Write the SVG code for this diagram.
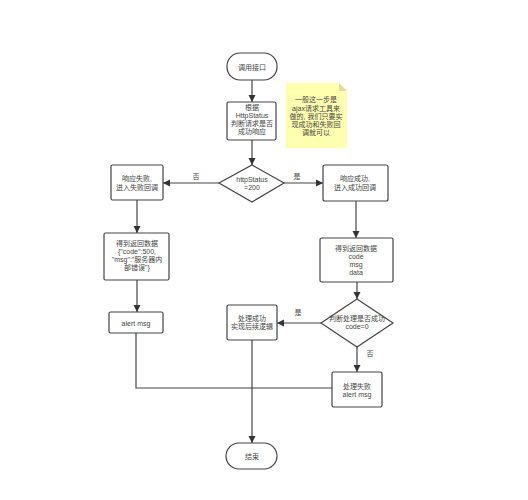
<svg xmlns="http://www.w3.org/2000/svg" width="528" height="500" viewBox="0 0 528 500">
<defs>
<marker id="ah" markerWidth="8" markerHeight="8" refX="7" refY="4" orient="auto" markerUnits="userSpaceOnUse">
<path d="M0,0.5 L7,4 L0,7.5 Z" fill="#333"/>
</marker>
<style>
.n{fill:#fff;stroke:#444;stroke-width:1.2}
.c{fill:none;stroke:#444;stroke-width:1.2}
.a{marker-end:url(#ah)}
text{font-family:"Liberation Sans","Noto Sans CJK SC",sans-serif;font-size:7px;fill:#444;text-anchor:middle;dominant-baseline:central}
</style>
</defs>
<rect width="528" height="500" fill="#fff"/>
<g id="connectors">
<path class="c a" d="M252,80 V102"/>
<path class="c a" d="M252,140 V165"/>
<path class="c a" d="M219,183 H163"/>
<path class="c a" d="M284,183 H323"/>
<path class="c a" d="M137,200 V233"/>
<path class="c a" d="M137,280 V312"/>
<path class="c a" d="M356,201 V238"/>
<path class="c a" d="M357,282 V299"/>
<path class="c a" d="M321,323 H277"/>
<path class="c a" d="M357,347 V372"/>
<path class="c" d="M136,333 V388 H252"/>
<path class="c" d="M332,388 H252"/>
<path class="c a" d="M252,340 V443"/>
<text x="196" y="176">否</text>
<text x="297" y="176">是</text>
<text x="298" y="312">是</text>
<text x="370" y="353">否</text>
</g>
<g id="start">
<rect class="n" x="227" y="53" width="50" height="27" rx="13"/>
<text x="252" y="67">调用接口</text>
</g>
<g id="judge">
<rect class="n" x="227" y="102" width="49" height="38" rx="1.5"/>
<text x="252" y="107">根据</text>
<text x="252" y="115">HttpStatus</text>
<text x="252" y="123">判断请求是否</text>
<text x="252" y="131">成功响应</text>
</g>
<g id="note">
<path d="M286,83 H339 L347,91 V148 H286 Z" fill="#ffffb0" stroke="none"/>
<path d="M339,83 V91 H347 Z" fill="#e0dc98"/>
<text x="316" y="99">一般这一步是</text>
<text x="316" y="108">ajax请求工具来</text>
<text x="316" y="116">做的, 我们只要实</text>
<text x="316" y="124">现成功和失败回</text>
<text x="316" y="132">调就可以</text>
</g>
<g id="status">
<path class="n" d="M252,165 L284,183 L252,202 L219,183 Z"/>
<text x="252" y="179">httpStatus</text>
<text x="252" y="187">=200</text>
</g>
<g id="fail">
<rect class="n" x="111" y="165" width="52" height="35" rx="1.5"/>
<text x="137" y="178">响应失败,</text>
<text x="137" y="187">进入失败回调</text>
</g>
<g id="success">
<rect class="n" x="323" y="165" width="65" height="36" rx="2"/>
<text x="355" y="178">响应成功,</text>
<text x="355" y="187">进入成功回调</text>
</g>
<g id="faildata">
<rect class="n" x="104" y="233" width="65" height="47" rx="1.5"/>
<text x="137" y="243">得到返回数据</text>
<text x="137" y="251">{"code":500,</text>
<text x="137" y="259">"msg":"服务器内</text>
<text x="137" y="267">部错误"}</text>
</g>
<g id="alert">
<rect class="n" x="109" y="312" width="54" height="21" rx="1.5"/>
<text x="136" y="323">alert msg</text>
</g>
<g id="data">
<rect class="n" x="320" y="238" width="73" height="44" rx="1.5"/>
<text x="356" y="248">得到返回数据</text>
<text x="356" y="256">code</text>
<text x="356" y="264">msg</text>
<text x="356" y="272">data</text>
</g>
<g id="check">
<path class="n" d="M357,299 L393,323 L357,347 L321,323 Z"/>
<text x="357" y="318">判断处理是否成功</text>
<text x="357" y="326">code=0</text>
</g>
<g id="ok">
<rect class="n" x="227" y="305" width="50" height="35" rx="1.5"/>
<text x="252" y="318">处理成功</text>
<text x="252" y="326">实现后续逻辑</text>
</g>
<g id="ng">
<rect class="n" x="332" y="372" width="50" height="35" rx="1.5"/>
<text x="357" y="386">处理失败</text>
<text x="357" y="394">alert msg</text>
</g>
<g id="end">
<rect class="n" x="226" y="443" width="51" height="26" rx="13"/>
<text x="252" y="456">结束</text>
</g>
</svg>
